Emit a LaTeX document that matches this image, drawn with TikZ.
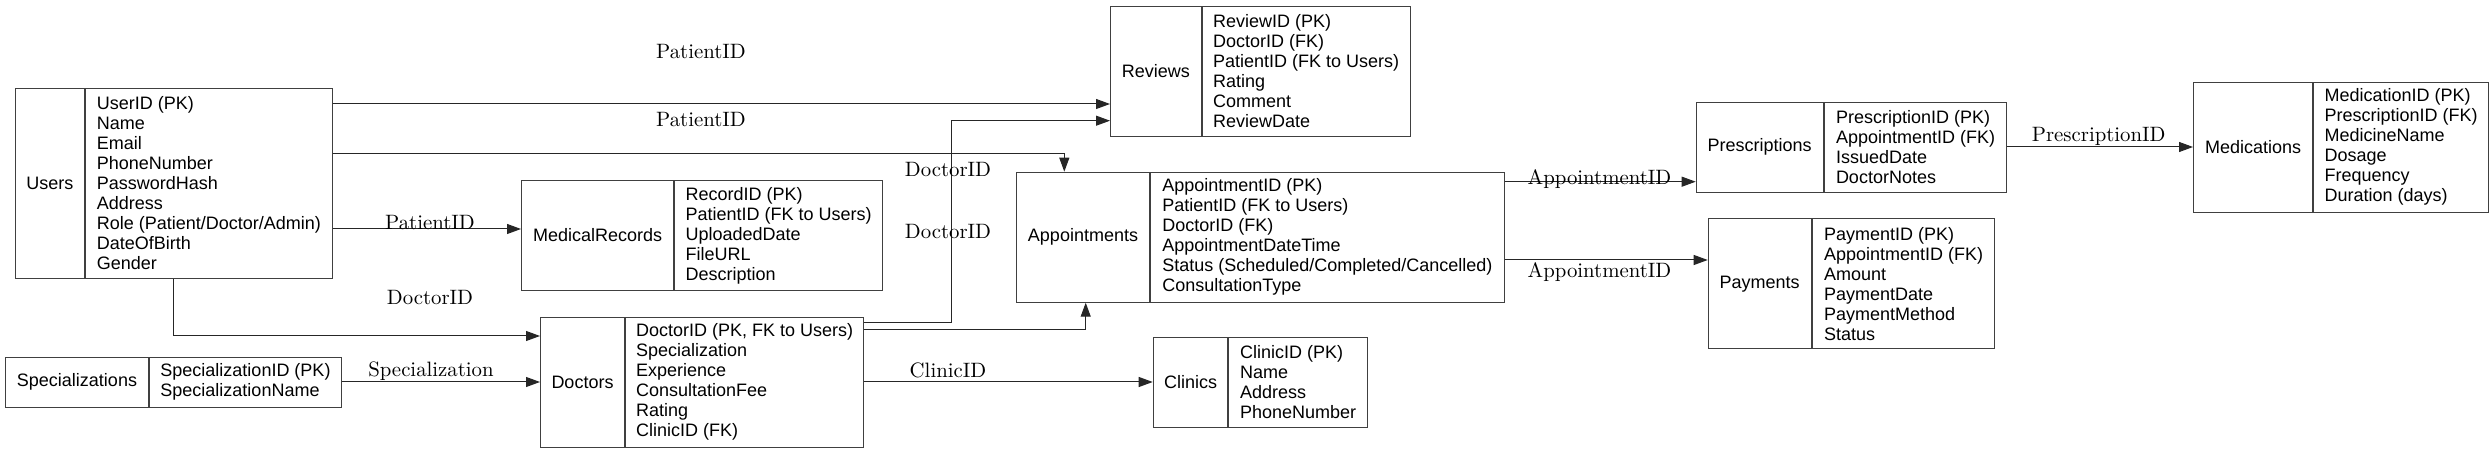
\documentclass[tikz,border=0pt]{standalone}
\usepackage{fontspec}
\newfontfamily\tabfont{Liberation Sans}
\usetikzlibrary{arrows.meta}

\tikzset{
  tname/.style={draw=black!75, line width=0.5pt, inner sep=0pt, anchor=north west,
    font=\tabfont\fontsize{9}{10}\selectfont},
  tattr/.style={tname, align=left},
  fk/.style={draw=black!85, line width=0.5pt, -{Triangle[length=7pt,width=5pt]}},
  elabel/.style={inner sep=0pt, font=\fontsize{10.4}{12}\selectfont}
}

\begin{document}
\begin{tikzpicture}[x=0.5pt,y=-0.5pt]

    \useasboundingbox (0,0) rectangle (2492,453);

    % Users
    \node[tname, minimum width=34.65pt, minimum height=95pt] (usersN) at (14.7,88) {Users};
    \node[tattr, minimum width=123.35pt, minimum height=95pt] (users) at (usersN.north east)
      {UserID (PK)\\Name\\Email\\PhoneNumber\\PasswordHash\\Address\\Role (Patient/Doctor/Admin)\\DateOfBirth\\Gender};

    % Specializations
    \node[tname, minimum width=71.5pt, minimum height=25pt] (specsN) at (5,356.7) {Specializations};
    \node[tattr, minimum width=96pt, minimum height=25pt] (specs) at (specsN.north east)
      {SpecializationID (PK)\\SpecializationName};

    % MedicalRecords
    \node[tname, minimum width=76.15pt, minimum height=55pt] (recordsN) at (521,180) {MedicalRecords};
    \node[tattr, minimum width=103.85pt, minimum height=55pt] (records) at (recordsN.north east)
      {RecordID (PK)\\PatientID (FK to Users)\\UploadedDate\\FileURL\\Description};

    % Doctors
    \node[tname, minimum width=42pt, minimum height=65pt] (doctorsN) at (540,316.7) {Doctors};
    \node[tattr, minimum width=119.15pt, minimum height=65pt] (doctors) at (doctorsN.north east)
      {DoctorID (PK, FK to Users)\\Specialization\\Experience\\ConsultationFee\\Rating\\ClinicID (FK)};

    % Reviews
    \node[tname, minimum width=45.35pt, minimum height=65pt] (reviewsN) at (1110,5.7) {Reviews};
    \node[tattr, minimum width=104pt, minimum height=65pt] (reviews) at (reviewsN.north east)
      {ReviewID (PK)\\DoctorID (FK)\\PatientID (FK to Users)\\Rating\\Comment\\ReviewDate};

    % Appointments
    \node[tname, minimum width=66.8pt, minimum height=65pt] (apptsN) at (1015.7,171.7) {Appointments};
    \node[tattr, minimum width=176.6pt, minimum height=65pt] (appts) at (apptsN.north east)
      {AppointmentID (PK)\\PatientID (FK to Users)\\DoctorID (FK)\\AppointmentDateTime\\Status (Scheduled/Completed/Cancelled)\\ConsultationType};

    % Clinics
    \node[tname, minimum width=37.3pt, minimum height=45pt] (clinicsN) at (1152.7,336.7) {Clinics};
    \node[tattr, minimum width=69.35pt, minimum height=45pt] (clinics) at (clinicsN.north east)
      {ClinicID (PK)\\Name\\Address\\PhoneNumber};

    % Prescriptions
    \node[tname, minimum width=63.5pt, minimum height=45pt] (prescN) at (1695.7,101.7) {Prescriptions};
    \node[tattr, minimum width=91.3pt, minimum height=45pt] (presc) at (prescN.north east)
      {PrescriptionID (PK)\\AppointmentID (FK)\\IssuedDate\\DoctorNotes};

    % Payments
    \node[tname, minimum width=51.5pt, minimum height=65pt] (paymentsN) at (1707.7,218.3) {Payments};
    \node[tattr, minimum width=91.3pt, minimum height=65pt] (payments) at (paymentsN.north east)
      {PaymentID (PK)\\AppointmentID (FK)\\Amount\\PaymentDate\\PaymentMethod\\Status};

    % Medications
    \node[tname, minimum width=59.5pt, minimum height=65pt] (medsN) at (2193,81.7) {Medications};
    \node[tattr, minimum width=87.5pt, minimum height=65pt] (meds) at (medsN.north east)
      {MedicationID (PK)\\PrescriptionID (FK)\\MedicineName\\Dosage\\Frequency\\Duration (days)};

    % foreign keys
    \draw[fk] (users.east |- 0,104) -- (reviewsN.west |- 0,104);
    \draw[fk] (users.east |- 0,154) -| (apptsN.north -| 1064.3,0);
    \draw[fk] (users.east |- 0,229) -- (recordsN.west |- 0,229);
    \draw[fk] (users.south -| 173.3,0) |- (doctorsN.west |- 0,336);
    \draw[fk] (specs.east |- 0,382) -- (doctorsN.west |- 0,382);
    \draw[fk] (doctors.east |- 0,322.7) -- ++(87,0) |- (reviewsN.west |- 0,120.7);
    \draw[fk] (doctors.east |- 0,329.3) -| (apptsN.south -| 1085.7,0);
    \draw[fk] (doctors.east |- 0,382) -- (clinicsN.west |- 0,382);
    \draw[fk] (appts.east |- 0,181.7) -- (prescN.west |- 0,181.7);
    \draw[fk] (appts.east |- 0,260) -- (paymentsN.west |- 0,260);
    \draw[fk] (presc.east |- 0,147) -- (medsN.west |- 0,147);

    % edge labels
    \node[elabel] (lbPat1) at (701,51.5) {PatientID};
    \node[elabel] (lbPat2) at (701,119.3) {PatientID};
    \node[elabel] (lbPat3) at (430,223) {PatientID};
    \node[elabel] (lbDoc1) at (430,297.5) {DoctorID};
    \node[elabel] (lbSpec) at (431,371.5) {Specialization};
    \node[elabel] (lbDoc2) at (948,169.3) {DoctorID};
    \node[elabel] (lbDoc3) at (948,231.3) {DoctorID};
    \node[elabel] (lbClinic) at (948,370.3) {ClinicID};
    \node[elabel] (lbAppt1) at (1599.5,179.5) {AppointmentID};
    \node[elabel] (lbAppt2) at (1599.5,272.3) {AppointmentID};
    \node[elabel] (lbPresc) at (2098.7,136.7) {PrescriptionID};

  \end{tikzpicture}
\end{document}
